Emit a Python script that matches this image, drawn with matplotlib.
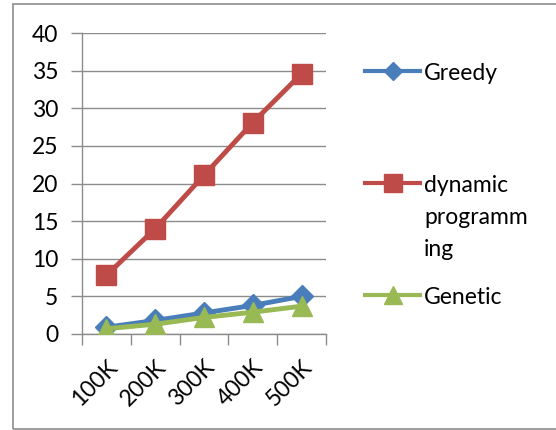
import matplotlib
matplotlib.use("Agg")
import matplotlib.pyplot as plt
from matplotlib.patches import Rectangle

categories = ["100K", "200K", "300K", "400K", "500K"]
greedy = [0.9, 1.8, 2.8, 3.8, 5.0]
dynamic = [7.8, 14.0, 21.1, 28.1, 34.6]
genetic = [0.7, 1.3, 2.2, 2.9, 3.7]
yticks = [0, 5, 10, 15, 20, 25, 30, 35, 40]

plt.rcParams['font.family'] = ['Lato', 'DejaVu Sans']
FS = 16.5

fig = plt.figure(figsize=(5.56, 4.30), dpi=100)
ax = fig.add_axes([82/556, 1-334/430, (326-82)/556, (334-33)/430])

x = list(range(len(categories)))
grid_c = "#8c8c8c"
l1, = ax.plot(x, greedy, color="#4a7ebb", lw=3.5, marker="D", ms=11, label="Greedy", zorder=3)
l2, = ax.plot(x, dynamic, color="#be4b48", lw=3.5, marker="s", ms=15, label="dynamic", zorder=3)
l3, = ax.plot(x, genetic, color="#98b954", lw=3.5, marker="^", ms=15, label="Genetic", zorder=4)

ax.set_xlim(-0.5, len(categories)-0.5)
ax.set_ylim(0, 40)
ax.set_yticks(yticks)
ax.set_yticklabels([str(v) for v in yticks], fontsize=FS)
ax.yaxis.grid(True, color=grid_c, lw=1)
ax.set_axisbelow(True)

ax.set_xticks([i-0.5 for i in range(len(categories)+1)])
ax.set_xticklabels([])
ax.set_xticks(x, minor=True)
ax.set_xticklabels(categories, minor=True, rotation=45, ha='right', rotation_mode='anchor', fontsize=FS)
ax.tick_params(axis='x', which='minor', length=0, pad=16)
ax.tick_params(axis='x', which='major', length=8, color=grid_c, width=1)
ax.tick_params(axis='y', length=8, color=grid_c, width=1, pad=9)
for s in ["top", "right"]:
    ax.spines[s].set_visible(False)
for s in ["left", "bottom"]:
    ax.spines[s].set_color(grid_c)
    ax.spines[s].set_linewidth(1)

kw = dict(frameon=False, fontsize=FS, handlelength=2.4, handletextpad=0.17, borderpad=0, borderaxespad=0, loc="center left")
lg1 = fig.legend([l1], ["Greedy"], bbox_to_anchor=(365/556, 1-73/430), **kw)
lg2 = fig.legend([l2], ["dynamic"], bbox_to_anchor=(365/556, 1-185/430), **kw)
lg3 = fig.legend([l3], ["Genetic"], bbox_to_anchor=(365/556, 1-297/430), **kw)
for lg in (lg1, lg2, lg3):
    for h in lg.legend_handles:
        h.set_markersize(h.get_markersize()*0.85)
        h.set_linewidth(3.0)
fig.text(424/556, 1-217/430, "programm", fontsize=FS, va="center", ha="left")
fig.text(424/556, 1-249/430, "ing", fontsize=FS, va="center", ha="left")

fig.add_artist(Rectangle((13/556, 1-429/430), 2, 425/430, transform=fig.transFigure,
                         fill=False, edgecolor="#8c8c8c", lw=1.2))

fig.savefig("out.png", dpi=100)
